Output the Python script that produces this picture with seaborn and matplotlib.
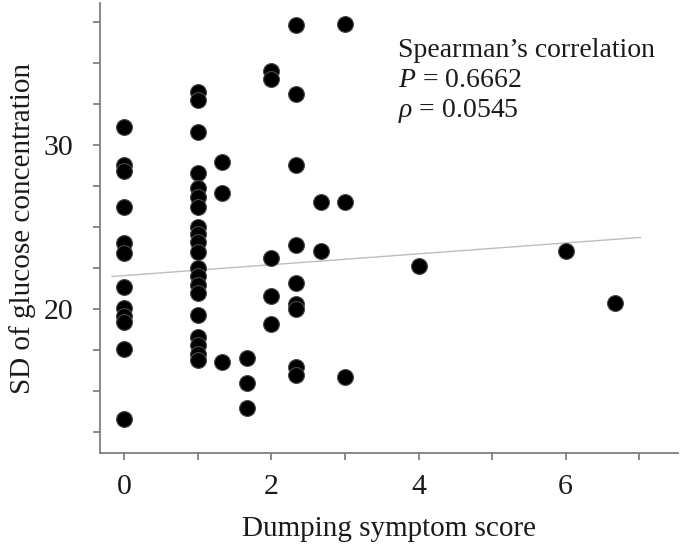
import matplotlib
matplotlib.use('Agg')
import matplotlib.pyplot as plt
import numpy as np
import pandas as pd
import seaborn as sns

# dumping symptom score per patient, one column group at a time
score = ([0] * 12 + [1] * 20 + [1.33] * 3 + [1.67] * 3 + [2] * 5
         + [2.33] * 9 + [2.67] * 2 + [3] * 3 + [4, 6, 6.67])
# SD of glucose concentration
sd_glucose = [
    31.1, 28.75, 28.4, 26.25, 24.0, 23.45, 21.35, 20.1, 19.6, 19.2, 17.6, 13.3,
    33.25, 32.75, 30.8, 28.3, 27.4, 26.85, 26.25, 25.0, 24.6, 24.1, 23.5,
    22.5, 22.0, 21.5, 21.0, 19.65, 18.3, 17.8, 17.3, 16.9,
    28.95, 27.1, 16.8,
    17.0, 15.5, 14.0,
    34.5, 34.0, 23.1, 20.8, 19.1,
    37.3, 33.1, 28.8, 23.9, 21.6, 20.3, 20.0, 16.5, 16.0,
    26.5, 23.55,
    37.35, 26.55, 15.9,
    22.6, 23.55, 20.4,
]
# fitted line
fit_x = [-0.17, 7.02]
fit_y = [21.99, 24.37]

x_ticks = [0, 1, 2, 3, 4, 5, 6, 7]
x_labels = ['0', '', '2', '', '4', '', '6', '']
y_ticks = [12.5, 15, 17.5, 20, 22.5, 25, 27.5, 30, 32.5, 35, 37.5]
y_labels = ['', '', '', '20', '', '', '', '30', '', '', '']

df = pd.DataFrame({'score': score, 'sd': sd_glucose})
line_df = pd.DataFrame({'x': fit_x, 'y': fit_y})

sns.set_style('white')
plt.rcParams['font.family'] = ['Liberation Serif', 'DejaVu Serif']
plt.rcParams['mathtext.fontset'] = 'custom'
plt.rcParams['mathtext.rm'] = 'Liberation Serif'
plt.rcParams['mathtext.it'] = 'Liberation Serif:italic'

fig = plt.figure(figsize=(6.85, 5.49), dpi=100)
ax = fig.add_axes([0.146, 0.175, 0.844, 0.8195])

sns.lineplot(data=line_df, x='x', y='y', ax=ax, color='#bdbdbd',
             linewidth=1.0, zorder=1)
sns.scatterplot(data=df, x='score', y='sd', ax=ax, color='black', s=130,
                edgecolor='#4a4a4a', linewidth=0.8, zorder=2)

ax.set_xlim(-0.33, 7.53)
ax.set_ylim(11.25, 38.64)
ax.set_xticks(x_ticks)
ax.set_xticklabels(x_labels)
ax.set_yticks(y_ticks)
ax.set_yticklabels(y_labels)

for side in ['top', 'right']:
    ax.spines[side].set_visible(False)
for side in ['left', 'bottom']:
    ax.spines[side].set_color('#808080')
    ax.spines[side].set_linewidth(1.3)

ax.tick_params(axis='both', which='major', direction='out', length=5,
               width=1.3, color='#808080', labelsize=21.5, labelcolor='#1a1a1a',
               bottom=True, left=True)
ax.tick_params(axis='x', pad=10)
ax.tick_params(axis='y', pad=14)

ax.set_xlabel('Dumping symptom score', fontsize=21, color='#1a1a1a',
              labelpad=12)
ax.set_ylabel('SD of glucose concentration', fontsize=21, color='#1a1a1a',
              labelpad=6)

fig.text(0.581, 0.897, 'Spearman\u2019s correlation', fontsize=20,
         color='#1a1a1a', va='baseline')
fig.text(0.581, 0.841, '$P$ = 0.6662', fontsize=20,
         color='#1a1a1a', va='baseline')
fig.text(0.581, 0.787, '$\\rho$ = 0.0545', fontsize=20,
         color='#1a1a1a', va='baseline')

fig.savefig('out.png', dpi=100)
